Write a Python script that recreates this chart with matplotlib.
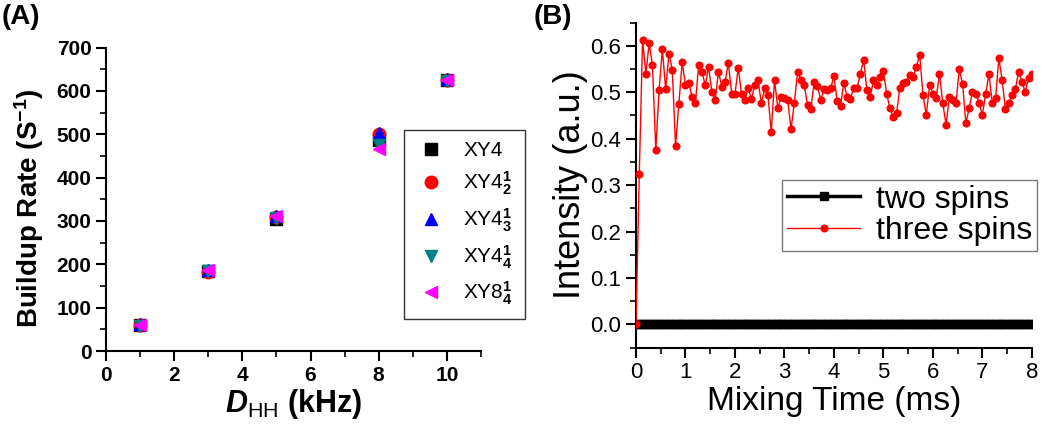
import numpy as np
import matplotlib
matplotlib.use('Agg')
import matplotlib.pyplot as plt
from matplotlib.ticker import MultipleLocator, FormatStrFormatter

plt.rcParams['font.family'] = ['Liberation Sans', 'DejaVu Sans']
plt.rcParams['mathtext.fontset'] = 'custom'
plt.rcParams['mathtext.rm'] = 'Liberation Sans'
plt.rcParams['mathtext.it'] = 'Liberation Sans:italic:bold'
plt.rcParams['mathtext.bf'] = 'Liberation Sans:bold'

# ---- panel A data: buildup rate vs dipolar coupling ----
d_hh = [1, 3, 5, 8, 10]
rate_xy4 = [60, 185, 304, 488, 625]
rate_xy4_12 = [60, 183, 310, 501, 625]
rate_xy4_13 = [62, 186, 312, 503, 627]
rate_xy4_14 = [58, 185, 308, 476, 622]
rate_xy8_14 = [60, 188, 312, 466, 625]

# ---- panel B data: intensity vs mixing time ----
three_spins = [
    0.0, 0.324, 0.613, 0.54, 0.605, 0.558, 0.375, 0.505, 0.592, 0.506,
    0.583, 0.548, 0.385, 0.475, 0.565, 0.515, 0.52, 0.49, 0.476, 0.558,
    0.544, 0.515, 0.555, 0.501, 0.483, 0.544, 0.512, 0.522, 0.563, 0.496,
    0.496, 0.553, 0.496, 0.483, 0.508, 0.485, 0.515, 0.526, 0.476, 0.508,
    0.494, 0.415, 0.526, 0.465, 0.49, 0.487, 0.483, 0.42, 0.477, 0.544,
    0.527, 0.515, 0.472, 0.463, 0.522, 0.513, 0.483, 0.506, 0.505, 0.508,
    0.535, 0.48, 0.47, 0.52, 0.49, 0.485, 0.51, 0.508, 0.539, 0.57,
    0.505, 0.49, 0.526, 0.515, 0.533, 0.546, 0.496, 0.465, 0.447, 0.455,
    0.51, 0.519, 0.522, 0.537, 0.532, 0.555, 0.58, 0.494, 0.451, 0.515,
    0.497, 0.487, 0.54, 0.476, 0.43, 0.49, 0.483, 0.476, 0.549, 0.518,
    0.434, 0.465, 0.501, 0.497, 0.477, 0.451, 0.496, 0.539, 0.476, 0.487,
    0.573, 0.526, 0.463, 0.476, 0.494, 0.506, 0.544, 0.522, 0.501, 0.53,
    0.54,
]
mix_time = np.linspace(0, 8, len(three_spins))
two_spins = [0.0] * len(three_spins)

fig = plt.figure(figsize=(10.5, 4.25), dpi=100)

# ---------------- panel A ----------------
axA = fig.add_axes([0.101, 0.174, 0.357, 0.714])
series = [
    (rate_xy4, 's', 'black', 8, r'XY4'),
    (rate_xy4_12, 'o', 'red', 9, r'XY4$^{\mathbf{1}}_{\mathbf{2}}$'),
    (rate_xy4_13, '^', 'blue', 9, r'XY4$^{\mathbf{1}}_{\mathbf{3}}$'),
    (rate_xy4_14, 'v', '#008080', 9, r'XY4$^{\mathbf{1}}_{\mathbf{4}}$'),
    (rate_xy8_14, '<', 'magenta', 9, r'XY8$^{\mathbf{1}}_{\mathbf{4}}$'),
]
for vals, mk, col, ms, lab in series:
    axA.plot(d_hh, vals, linestyle='none', marker=mk, color=col,
             markersize=ms, label=lab)

axA.set_xlim(0, 11)
axA.set_ylim(0, 700)
axA.xaxis.set_major_locator(MultipleLocator(2))
axA.xaxis.set_minor_locator(MultipleLocator(1))
axA.yaxis.set_major_locator(MultipleLocator(100))
axA.yaxis.set_minor_locator(MultipleLocator(50))
for s in ['top', 'right']:
    axA.spines[s].set_visible(False)
for s in ['left', 'bottom']:
    axA.spines[s].set_linewidth(1.5)
axA.tick_params(which='major', direction='out', length=7, width=1.5,
                labelsize=15)
axA.tick_params(which='minor', direction='out', length=4, width=1.2)
for lbl in axA.get_xticklabels() + axA.get_yticklabels():
    lbl.set_fontweight('bold')
axA.set_xlabel(r'$D_{\mathrm{HH}}$ (kHz)', fontsize=22, fontweight='bold',
               labelpad=2)
axA.set_ylabel(r'Buildup Rate (S$^{\mathbf{-1}}$)', fontsize=20,
               fontweight='bold')
axA.yaxis.set_label_coords(-0.16, 0.47)
legA = axA.legend(loc='upper left', bbox_to_anchor=(0.795, 0.729),
                  borderaxespad=0, frameon=True, fancybox=False,
                  prop={'size': 15}, handletextpad=0.8,
                  labelspacing=0.45, borderpad=0.55, handlelength=1.5)
legA.get_frame().set_edgecolor('black')
legA.get_frame().set_linewidth(1.0)
fig.text(0.002, 0.99, '(A)', fontsize=20, fontweight='bold', va='top')

# ---------------- panel B ----------------
axB = fig.add_axes([0.6057, 0.182, 0.377, 0.765])
axB.plot(mix_time, two_spins, color='black', linewidth=2.5, marker='s',
         markersize=5.5, label='two spins', zorder=2)
axB.plot(mix_time, three_spins, color='red', linewidth=1.0, marker='o',
         markersize=4.8, label='three spins', zorder=3)
axB.set_xlim(0, 8)
axB.set_ylim(-0.05, 0.65)
axB.xaxis.set_major_locator(MultipleLocator(1))
axB.xaxis.set_minor_locator(MultipleLocator(0.5))
axB.yaxis.set_major_locator(MultipleLocator(0.1))
axB.yaxis.set_minor_locator(MultipleLocator(0.05))
axB.yaxis.set_major_formatter(FormatStrFormatter('%.1f'))
for s in ['top', 'right']:
    axB.spines[s].set_visible(False)
for s in ['left', 'bottom']:
    axB.spines[s].set_linewidth(1.5)
axB.tick_params(which='major', direction='out', length=7, width=1.5,
                labelsize=16)
axB.tick_params(which='minor', direction='out', length=4, width=1.2)
axB.set_xlabel('Mixing Time (ms)', fontsize=24, labelpad=2)
axB.set_ylabel('Intensity (a.u.)', fontsize=26, labelpad=2)
legB = axB.legend(loc='upper left', bbox_to_anchor=(0.369, 0.516),
                  borderaxespad=0, frameon=True, fancybox=False,
                  fontsize=23, handlelength=2.3, handletextpad=0.5,
                  labelspacing=0.05, borderpad=0.15)
legB.get_frame().set_edgecolor('#555555')
legB.get_frame().set_linewidth(1.0)
fig.text(0.508, 0.99, '(B)', fontsize=20, fontweight='bold', va='top')

fig.savefig('out.png', dpi=100)
